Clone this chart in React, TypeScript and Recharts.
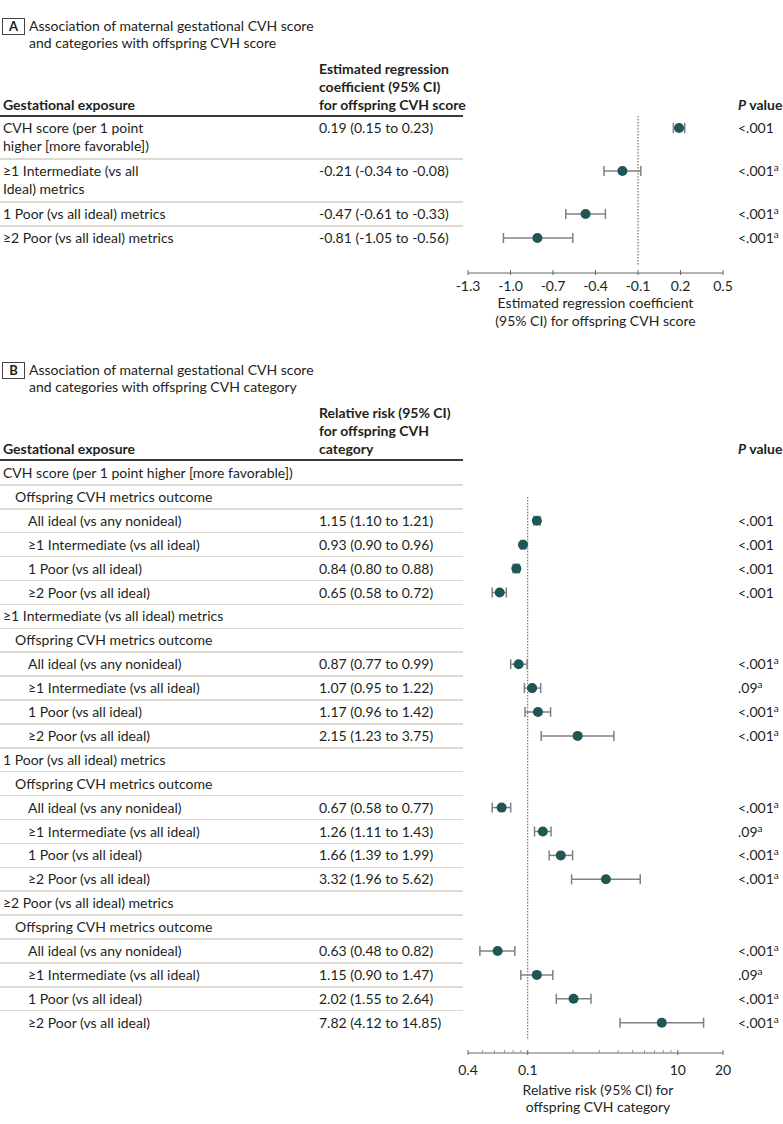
import React from "react";
import {
  ErrorBar,
  ReferenceLine,
  Scatter,
  ScatterChart,
  XAxis,
  YAxis,
} from "recharts";

// Forest plots: maternal gestational CVH vs offspring CVH (panels A and B).

const FONT = "Lato, 'Open Sans', sans-serif";
const INK = "#231f20";
const DOT = "#1f5656";
const WHISKER = "#808080";
const RULE = "#dcdad1";
const AXIS = "#666";

// ---- Panel A: estimated regression coefficient ----
const A_LABELS = [
  ["CVH score (per 1 point", "higher [more favorable])"],
  ["≥1 Intermediate (vs all", "Ideal) metrics"],
  ["1 Poor (vs all ideal) metrics"],
  ["≥2 Poor (vs all ideal) metrics"],
];
const A_EST = [0.19, -0.21, -0.47, -0.81];
const A_LO = [0.15, -0.34, -0.61, -1.05];
const A_HI = [0.23, -0.08, -0.33, -0.56];
const A_P = ["<.001", "<.001", "<.001", "<.001"];
const A_P_NOTE = [false, true, true, true];
const A_TICKS = [-1.3, -1.0, -0.7, -0.4, -0.1, 0.2, 0.5];
const A_REF = -0.1;

// ---- Panel B: relative risk ----
const B_EXPOSURES = [
  "CVH score (per 1 point higher [more favorable])",
  "≥1 Intermediate (vs all ideal) metrics",
  "1 Poor (vs all ideal) metrics",
  "≥2 Poor (vs all ideal) metrics",
];
const B_SUBHEAD = "Offspring CVH metrics outcome";
const B_OUTCOMES = [
  "All ideal (vs any nonideal)",
  "≥1 Intermediate (vs all ideal)",
  "1 Poor (vs all ideal)",
  "≥2 Poor (vs all ideal)",
];
// one list per exposure, in outcome order
const B_RR = [
  [1.15, 0.93, 0.84, 0.65],
  [0.87, 1.07, 1.17, 2.15],
  [0.67, 1.26, 1.66, 3.32],
  [0.63, 1.15, 2.02, 7.82],
];
const B_LO = [
  [1.1, 0.9, 0.8, 0.58],
  [0.77, 0.95, 0.96, 1.23],
  [0.58, 1.11, 1.39, 1.96],
  [0.48, 0.9, 1.55, 4.12],
];
const B_HI = [
  [1.21, 0.96, 0.88, 0.72],
  [0.99, 1.22, 1.42, 3.75],
  [0.77, 1.43, 1.99, 5.62],
  [0.82, 1.47, 2.64, 14.85],
];
const B_P = [
  ["<.001", "<.001", "<.001", "<.001"],
  ["<.001", ".09", "<.001", "<.001"],
  ["<.001", ".09", "<.001", "<.001"],
  ["<.001", ".09", "<.001", "<.001"],
];
const B_P_NOTE = [
  [false, false, false, false],
  [true, true, true, true],
  [true, true, true, true],
  [true, true, true, true],
];
const B_MAJOR_TICKS = [0.4, 1, 10, 20];
const B_MAJOR_LABELS = ["0.4", "0.1", "10", "20"];
const B_MINOR_TICKS = [0.5, 0.6, 0.7, 0.8, 0.9, 2, 3, 4, 5, 6, 7, 8, 9];
const B_REF = 1;

// ---- layout ----
const W = 783;
const PLOT_LEFT = 468;
const PLOT_RIGHT = 723;
const COL_VALUE = 319;
const COL_P = 738;
const TABLE_RIGHT = 463;

const A_RULE = 116;
const A_AXIS = 273;
const B_RULE = 460;
const B_AXIS = 1053;
const B_PITCH = 23.9;

const fmtCi = (e: number, l: number, h: number) =>
  `${e.toFixed(2)} (${l.toFixed(2)} to ${h.toFixed(2)})`;

function Line({ x, y, children, bold, center, style }: any) {
  return (
    <div
      style={{
        position: "absolute",
        left: x,
        top: y - 9,
        lineHeight: "18px",
        whiteSpace: "nowrap",
        fontWeight: bold ? 700 : 400,
        transform: center ? "translateX(-50%)" : undefined,
        ...style,
      }}
    >
      {children}
    </div>
  );
}

function PValue({ y, p, note }: { y: number; p: string; note: boolean }) {
  return (
    <Line x={COL_P} y={y}>
      {p}
      {note && (
        <sup style={{ fontSize: 10, lineHeight: 0, verticalAlign: "5px" }}>a</sup>
      )}
    </Line>
  );
}

function PanelTitle({ letter, y, lines }: { letter: string; y: number; lines: string[] }) {
  return (
    <>
      <div
        style={{
          position: "absolute",
          left: 2,
          top: y - 8,
          width: 21,
          height: 15,
          border: "1px solid #444",
          fontWeight: 700,
          fontSize: 13,
          lineHeight: "15px",
          textAlign: "center",
        }}
      >
        {letter}
      </div>
      {lines.map((t, i) => (
        <Line key={t} x={29} y={y + i * 17}>
          {t}
        </Line>
      ))}
    </>
  );
}

function Hr({ y, thick }: { y: number; thick?: boolean }) {
  return (
    <div
      style={{
        position: "absolute",
        left: 0,
        top: y - (thick ? 1 : 0.75),
        width: TABLE_RIGHT,
        height: thick ? 2 : 1.5,
        background: thick ? "#3a3a3a" : RULE,
      }}
    />
  );
}

const Dot = (props: any) => <circle cx={props.cx} cy={props.cy} r={5} fill={DOT} />;

function TickA({ x, y, payload }: any) {
  return (
    <g>
      <line x1={x} x2={x} y1={y - 3} y2={y + 2} stroke={AXIS} />
      <text
        x={x}
        y={y + 12}
        textAnchor="middle"
        dominantBaseline="central"
        fontFamily={FONT}
        fontSize={14}
        fill={INK}
      >
        {payload.value.toFixed(1)}
      </text>
    </g>
  );
}

function TickB({ x, y, payload }: any) {
  const i = B_MAJOR_TICKS.indexOf(payload.value);
  if (i < 0) {
    return <line x1={x} x2={x} y1={y - 3} y2={y} stroke="#999" />;
  }
  return (
    <g>
      <line x1={x} x2={x} y1={y - 3} y2={y + 2} stroke={AXIS} />
      <text
        x={x}
        y={y + 16}
        textAnchor="middle"
        dominantBaseline="central"
        fontFamily={FONT}
        fontSize={14}
        fill={INK}
      >
        {B_MAJOR_LABELS[i]}
      </text>
    </g>
  );
}

function PanelA() {
  const heights = A_LABELS.map((l) => 24 + 19 * (l.length - 1));
  const tops = heights.map((_, i) => A_RULE + heights.slice(0, i).reduce((s, h) => s + h, 0));
  const plotH = A_AXIS - A_RULE;
  const data = A_EST.map((e, i) => ({
    x: e,
    y: tops[i] - A_RULE + 12,
    err: [e - A_LO[i], A_HI[i] - e],
  }));

  return (
    <>
      <PanelTitle
        letter="A"
        y={26}
        lines={["Association of maternal gestational CVH score", "and categories with offspring CVH score"]}
      />
      <Line x={3} y={A_RULE - 11} bold>
        Gestational exposure
      </Line>
      {["Estimated regression", "coefficient (95% CI)", "for offspring CVH score"].map((t, i) => (
        <Line key={t} x={COL_VALUE} y={A_RULE - 47 + i * 18} bold>
          {t}
        </Line>
      ))}
      <Line x={COL_P} y={A_RULE - 11} bold>
        <i>P</i> value
      </Line>
      <Hr y={A_RULE} thick />
      {A_LABELS.map((lines, i) => (
        <React.Fragment key={i}>
          {lines.map((t, j) => (
            <Line key={t} x={3} y={tops[i] + 12 + j * 18}>
              {t}
            </Line>
          ))}
          <Line x={COL_VALUE} y={tops[i] + 12}>
            {fmtCi(A_EST[i], A_LO[i], A_HI[i])}
          </Line>
          <PValue y={tops[i] + 12} p={A_P[i]} note={A_P_NOTE[i]} />
          {i < A_LABELS.length - 1 && <Hr y={tops[i] + heights[i]} />}
        </React.Fragment>
      ))}

      <div style={{ position: "absolute", left: 0, top: A_RULE }}>
        <ScatterChart
          width={W}
          height={plotH + 40}
          margin={{ top: 0, right: W - PLOT_RIGHT, bottom: 0, left: PLOT_LEFT }}
        >
          <XAxis
            type="number"
            dataKey="x"
            domain={[A_TICKS[0], A_TICKS[A_TICKS.length - 1]]}
            ticks={A_TICKS}
            interval={0}
            allowDataOverflow
            tickSize={0}
            tickMargin={0}
            tick={<TickA />}
            axisLine={{ stroke: AXIS }}
            tickLine={false}
            height={40}
          />
          <YAxis type="number" dataKey="y" domain={[0, plotH]} reversed hide />
          <ReferenceLine
            segment={[
              { x: A_REF, y: 0 },
              { x: A_REF, y: plotH - 7 },
            ]}
            stroke="#555"
            strokeDasharray="1.5 1.5"
          />
          <Scatter data={data} shape={Dot} isAnimationActive={false}>
            <ErrorBar dataKey="err" direction="x" width={5} stroke={WHISKER} strokeWidth={1.5} />
          </Scatter>
        </ScatterChart>
      </div>

      <Line x={(PLOT_LEFT + PLOT_RIGHT) / 2} y={303} center>
        Estimated regression coefficient
      </Line>
      <Line x={(PLOT_LEFT + PLOT_RIGHT) / 2} y={321} center>
        (95% CI) for offspring CVH score
      </Line>
    </>
  );
}

type BRow = {
  label: string;
  indent: number;
  g?: number;
  k?: number;
};

function PanelB() {
  const rows: BRow[] = [];
  B_EXPOSURES.forEach((ex, g) => {
    rows.push({ label: ex, indent: 0 });
    rows.push({ label: B_SUBHEAD, indent: 1 });
    B_OUTCOMES.forEach((o, k) => rows.push({ label: o, indent: 2, g, k }));
  });
  const top0 = B_RULE + 1;
  const plotH = B_AXIS - top0;
  const data = rows
    .map((r, i) => ({ r, i }))
    .filter(({ r }) => r.g !== undefined)
    .map(({ r, i }) => {
      const e = B_RR[r.g!][r.k!];
      return {
        x: e,
        y: i * B_PITCH + 12,
        err: [e - B_LO[r.g!][r.k!], B_HI[r.g!][r.k!] - e],
      };
    });
  const indentX = [3, 15, 28];

  return (
    <>
      <PanelTitle
        letter="B"
        y={370}
        lines={["Association of maternal gestational CVH score", "and categories with offspring CVH category"]}
      />
      <Line x={3} y={B_RULE - 11} bold>
        Gestational exposure
      </Line>
      {["Relative risk (95% CI)", "for offspring CVH", "category"].map((t, i) => (
        <Line key={t} x={COL_VALUE} y={B_RULE - 47 + i * 18} bold>
          {t}
        </Line>
      ))}
      <Line x={COL_P} y={B_RULE - 11} bold>
        <i>P</i> value
      </Line>
      <Hr y={B_RULE} thick />
      {rows.map((r, i) => {
        const cy = top0 + i * B_PITCH + 12;
        return (
          <React.Fragment key={i}>
            <Line x={indentX[r.indent]} y={cy}>
              {r.label}
            </Line>
            {r.g !== undefined && (
              <>
                <Line x={COL_VALUE} y={cy}>
                  {fmtCi(B_RR[r.g][r.k!], B_LO[r.g][r.k!], B_HI[r.g][r.k!])}
                </Line>
                <PValue y={cy} p={B_P[r.g][r.k!]} note={B_P_NOTE[r.g][r.k!]} />
              </>
            )}
            {i < rows.length - 1 && <Hr y={top0 + (i + 1) * B_PITCH} />}
          </React.Fragment>
        );
      })}

      <div style={{ position: "absolute", left: 0, top: top0 }}>
        <ScatterChart
          width={W}
          height={plotH + 40}
          margin={{ top: 0, right: W - PLOT_RIGHT, bottom: 0, left: PLOT_LEFT }}
        >
          <XAxis
            type="number"
            dataKey="x"
            scale="log"
            domain={[B_MAJOR_TICKS[0], B_MAJOR_TICKS[B_MAJOR_TICKS.length - 1]]}
            ticks={[...B_MAJOR_TICKS, ...B_MINOR_TICKS].sort((a, b) => a - b)}
            interval={0}
            allowDataOverflow
            tickSize={0}
            tickMargin={0}
            tick={<TickB />}
            axisLine={{ stroke: AXIS }}
            tickLine={false}
            height={40}
          />
          <YAxis type="number" dataKey="y" domain={[0, plotH]} reversed hide />
          <ReferenceLine
            segment={[
              { x: B_REF, y: B_PITCH + 12 },
              { x: B_REF, y: plotH - 13 },
            ]}
            stroke="#555"
            strokeDasharray="1.5 1.5"
          />
          <Scatter data={data} shape={Dot} isAnimationActive={false}>
            <ErrorBar dataKey="err" direction="x" width={5} stroke={WHISKER} strokeWidth={1.5} />
          </Scatter>
        </ScatterChart>
      </div>

      <Line x={598} y={1090} center>
        Relative risk (95% CI) for
      </Line>
      <Line x={598} y={1107} center>
        offspring CVH category
      </Line>
    </>
  );
}

export default function App() {
  return (
    <div
      style={{
        position: "absolute",
        left: 0,
        top: 0,
        width: W,
        height: 1124,
        background: "#fff",
        fontFamily: FONT,
        fontSize: 14,
        color: INK,
        overflow: "hidden",
      }}
    >
      <PanelA />
      <PanelB />
    </div>
  );
}
